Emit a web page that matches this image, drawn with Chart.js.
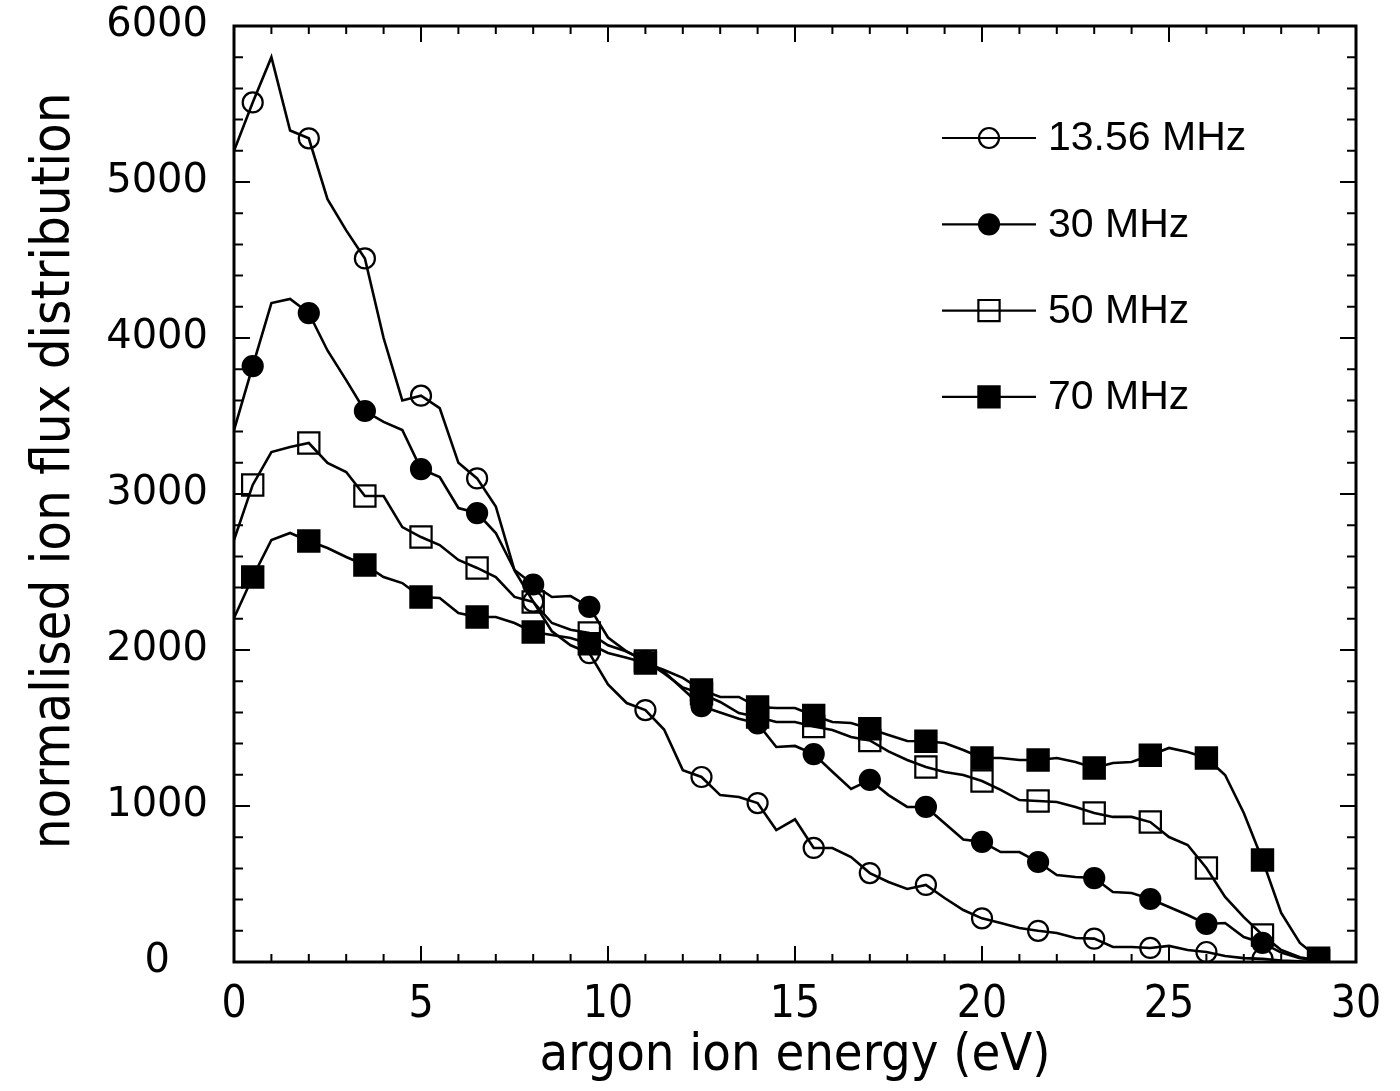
<!DOCTYPE html>
<html>
<head>
<meta charset="utf-8">
<title>Argon ion flux distribution</title>
<script src="https://cdn.jsdelivr.net/npm/chart.js@4.4.1/dist/chart.umd.min.js"></script>
<style>
    html, body { margin: 0; padding: 0; background: #fff; }
    #ChartWrap { width: 1400px; height: 1091px; position: relative; }
</style>
</head>
<body>
<div id="ChartWrap"><canvas id="ChartIonFlux"></canvas></div>
<script>
// Ion energy in eV, one sample every 0.5 eV
const energy = [
    0, 0.5, 1, 1.5, 2, 2.5, 3, 3.5, 4, 4.5,
    5, 5.5, 6, 6.5, 7, 7.5, 8, 8.5, 9, 9.5,
    10, 10.5, 11, 11.5, 12, 12.5, 13, 13.5, 14, 14.5,
    15, 15.5, 16, 16.5, 17, 17.5, 18, 18.5, 19, 19.5,
    20, 20.5, 21, 21.5, 22, 22.5, 23, 23.5, 24, 24.5,
    25, 25.5, 26, 26.5, 27, 27.5, 28, 28.5, 29
];

// Normalised ion flux for each excitation frequency
const flux1356 = [
    5200, 5510, 5800, 5330, 5280, 4890, 4690, 4510, 4000, 3600,
    3630, 3550, 3200, 3100, 2920, 2510, 2310, 2120, 2030, 1980,
    1780, 1660, 1615, 1490, 1230, 1186, 1070, 1058, 1019, 846,
    915, 731, 731, 673, 570, 513, 468, 494, 410, 333,
    280, 250, 218, 200, 186, 154, 150, 96, 96, 90,
    103, 77, 64, 38, 25, 20, 10, 5, 0
];
const flux30 = [
    3410, 3820, 4224, 4250, 4160, 3920, 3730, 3532, 3462, 3410,
    3160, 3109, 2910, 2878, 2750, 2513, 2420, 2340, 2346, 2276,
    2080, 1990, 1930, 1860, 1750, 1640, 1600, 1560, 1530, 1378,
    1385, 1333, 1220, 1109, 1167, 1070, 994, 994, 890, 785,
    770, 705, 705, 641, 558, 545, 538, 449, 442, 404,
    353, 301, 244, 250, 160, 122, 60, 25, 10
];
const flux50 = [
    2705, 3058, 3269, 3301, 3327, 3199, 3141, 2987, 2987, 2788,
    2724, 2673, 2577, 2526, 2468, 2340, 2308, 2173, 2130, 2109,
    2030, 1990, 1930, 1850, 1760, 1720, 1667, 1596, 1571, 1538,
    1538, 1510, 1487, 1442, 1420, 1350, 1295, 1250, 1218, 1199,
    1160, 1103, 1038, 1032, 1026, 994, 955, 930, 930, 897,
    801, 750, 603, 417, 288, 173, 77, 30, 10
];
const flux70 = [
    2205, 2468, 2705, 2750, 2699, 2654, 2596, 2545, 2468, 2429,
    2340, 2333, 2237, 2212, 2212, 2173, 2115, 2096, 2077, 2040,
    1981, 1950, 1917, 1872, 1821, 1744, 1699, 1699, 1635, 1628,
    1628, 1580, 1538, 1532, 1495, 1455, 1417, 1415, 1404, 1359,
    1308, 1308, 1295, 1295, 1308, 1282, 1244, 1276, 1282, 1325,
    1372, 1346, 1308, 1199, 955, 654, 314, 122, 25
];

const frequencies = ['13.56 MHz', '30 MHz', '50 MHz', '70 MHz'];

const narrowFont = '"Liberation Sans Narrow", "DejaVu Sans Condensed", sans-serif';

// Marker every third sample (0.5, 2, 3.5 ... 29 eV)
function markerRadius(r) {
    return (ctx) => (ctx.dataIndex % 3 === 1 ? r : 0);
}

function makeSeries(label, values, style, filled, order) {
    const r = style === 'rect' ? 15 : 10;
    return {
        label: label,
        data: energy.map((e, i) => ({ x: e, y: values[i] })),
        borderColor: '#000',
        borderWidth: 2.6,
        tension: 0,
        fill: false,
        pointStyle: style,
        pointRadius: markerRadius(r),
        pointHoverRadius: markerRadius(r),
        pointBorderWidth: 2.2,
        pointBorderColor: '#000',
        pointBackgroundColor: filled ? '#000' : 'rgba(0,0,0,0)',
        keyRadius: r,
        keyFilled: filled,
        order: order
    };
}

// Box, inward ticks on all four sides
const frameTicks = {
    id: 'frameTicks',
    afterDatasetsDraw(chart) {
        const { ctx, chartArea: a, scales: { x, y } } = chart;
        ctx.save();
        ctx.strokeStyle = '#000';
        ctx.lineWidth = 2;
        ctx.beginPath();
        for (let v = 0; v <= 30; v += 1) {
            const px = x.getPixelForValue(v);
            const len = v % 5 === 0 ? 16 : 8;
            ctx.moveTo(px, a.bottom); ctx.lineTo(px, a.bottom - len);
            ctx.moveTo(px, a.top); ctx.lineTo(px, a.top + len);
        }
        for (let v = 0; v <= 6000; v += 200) {
            const py = y.getPixelForValue(v);
            const len = v % 1000 === 0 ? 16 : 9;
            ctx.moveTo(a.left, py); ctx.lineTo(a.left + len, py);
            ctx.moveTo(a.right, py); ctx.lineTo(a.right - len, py);
        }
        ctx.stroke();
        ctx.lineWidth = 3;
        ctx.strokeRect(a.left, a.top, a.right - a.left, a.bottom - a.top);
        ctx.restore();
    }
};

// Key in the upper right: line, marker, frequency text
const frequencyKey = {
    id: 'frequencyKey',
    afterDraw(chart) {
        const { ctx, chartArea: a } = chart;
        ctx.save();
        ctx.strokeStyle = '#000';
        ctx.fillStyle = '#000';
        ctx.font = '41px "Liberation Sans", Arial, sans-serif';
        ctx.textBaseline = 'middle';
        ctx.textAlign = 'left';
        chart.data.datasets.forEach((ds, i) => {
            const yy = a.top + 112 + i * 86.3;
            const x0 = a.left + 708;
            const xm = x0 + 47;
            ctx.lineWidth = 2.2;
            ctx.beginPath();
            ctx.moveTo(x0, yy);
            ctx.lineTo(x0 + 94, yy);
            ctx.stroke();
            ctx.beginPath();
            if (ds.pointStyle === 'rect') {
                const s = ds.keyRadius * Math.SQRT1_2;
                ctx.rect(xm - s, yy - s, 2 * s, 2 * s);
            } else {
                ctx.arc(xm, yy, ds.keyRadius, 0, Math.PI * 2);
            }
            if (ds.keyFilled) ctx.fill();
            ctx.stroke();
            ctx.fillText(ds.label, x0 + 106, yy + 1);
        });
        ctx.restore();
    }
};

const ctx = document.getElementById('ChartIonFlux');
new Chart(ctx, {
    type: 'line',
    data: {
        datasets: [
            makeSeries(frequencies[0], flux1356, 'circle', false, 3),
            makeSeries(frequencies[1], flux30, 'circle', true, 1),
            makeSeries(frequencies[2], flux50, 'rect', false, 2),
            makeSeries(frequencies[3], flux70, 'rect', true, 0)
        ]
    },
    options: {
        responsive: true,
        maintainAspectRatio: false,
        animation: false,
        layout: { padding: { top: 26, right: 44, bottom: 0, left: 0 } },
        plugins: {
            legend: { display: false },
            tooltip: { enabled: false },
            title: { display: false }
        },
        scales: {
            x: {
                type: 'linear',
                min: 0,
                max: 30,
                grid: { display: false },
                border: { display: false },
                ticks: {
                    stepSize: 5,
                    autoSkip: false,
                    padding: 9,
                    color: '#000',
                    font: { family: narrowFont, size: 44 }
                },
                title: {
                    display: true,
                    text: 'argon ion energy (eV)',
                    color: '#000',
                    padding: { top: 0, bottom: 9 },
                    font: { family: narrowFont, size: 52, lineHeight: 1 }
                },
                afterFit(scale) {
                    scale.height = 129;
                    scale.paddingLeft = 0;
                    scale.paddingRight = 0;
                }
            },
            y: {
                min: 0,
                max: 6000,
                grid: { display: false },
                border: { display: false },
                ticks: {
                    stepSize: 1000,
                    autoSkip: false,
                    padding: 18,
                    crossAlign: 'center',
                    color: '#000',
                    font: { family: '"DejaVu Sans", sans-serif', size: 40 },
                    callback: (value) => String(value)
                },
                title: {
                    display: true,
                    // leading spaces lift the title a little above the axis centre
                    text: '   normalised ion flux distribution',
                    color: '#000',
                    padding: { top: 28, bottom: 0 },
                    font: { family: narrowFont, size: 54, lineHeight: 1 }
                },
                afterFit(scale) {
                    scale.width = 234;
                    scale.paddingTop = 0;
                    scale.paddingBottom = 0;
                }
            }
        }
    },
    plugins: [frameTicks, frequencyKey]
});
</script>
</body>
</html>
